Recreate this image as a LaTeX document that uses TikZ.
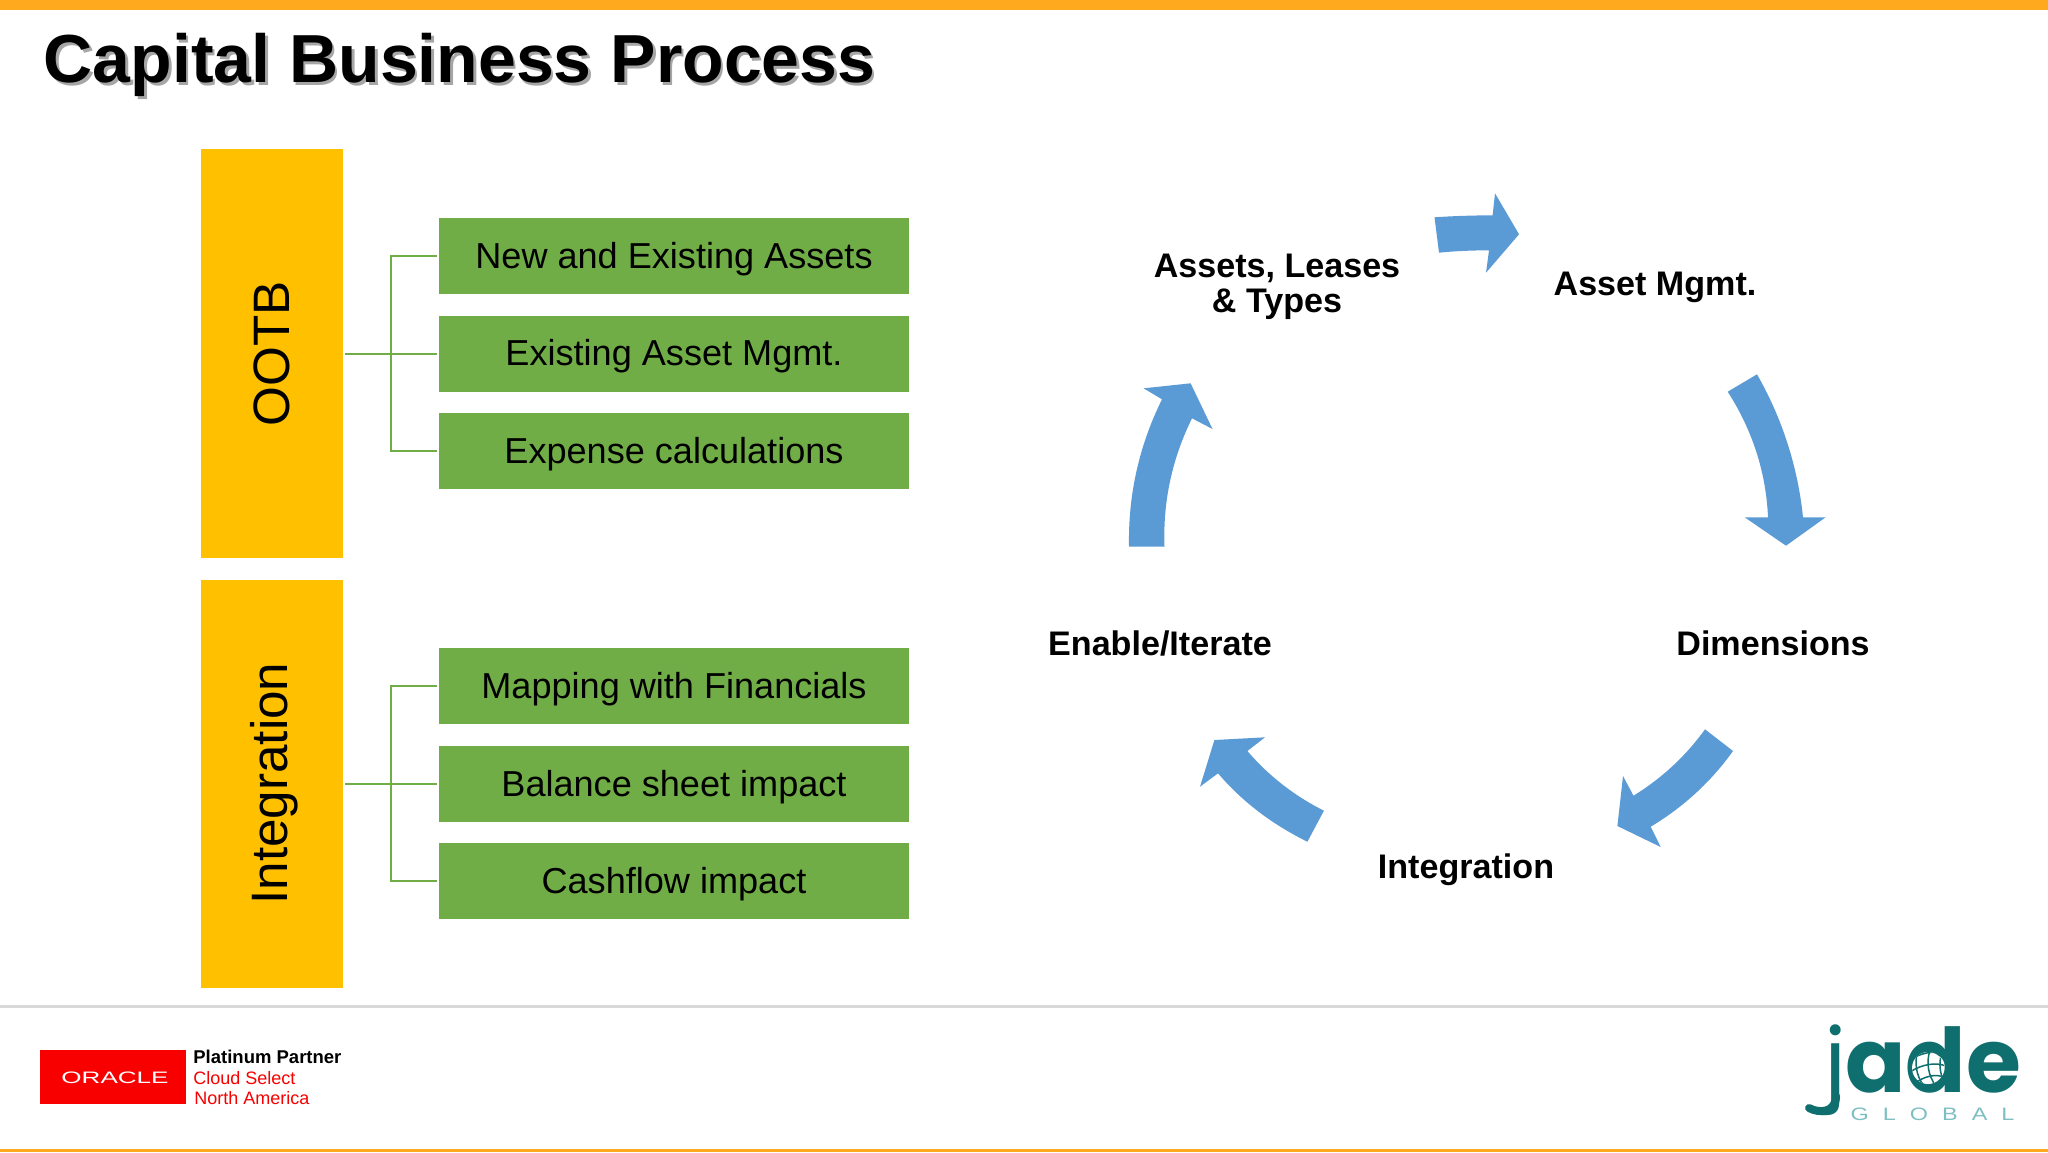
\documentclass[tikz,border=0pt]{standalone}
\usepackage{fontspec}
\setmainfont{Liberation Sans}
\newfontfamily\jadefont{Poppins}
\definecolor{band}{HTML}{FFA91F}
\definecolor{rulegray}{HTML}{D9D9D9}
\definecolor{boxyellow}{HTML}{FFC000}
\definecolor{boxgreen}{HTML}{70AD47}
\definecolor{cycleblue}{HTML}{5B9BD5}
\definecolor{oraclered}{HTML}{F80000}
\definecolor{jadeteal}{HTML}{0F6E6E}
\definecolor{jadelight}{HTML}{7DBFC2}
\tikzset{
  yellowbox/.style={fill=boxyellow,draw=none,minimum width=71pt,inner sep=0pt,outer sep=0pt},
  greenbox/.style={fill=boxgreen,draw=none,minimum width=235pt,minimum height=38pt,inner sep=0pt,outer sep=0pt,
    font=\fontsize{18.05}{21}\selectfont,text=black,text height=12.2pt,text depth=0pt},
  sidelabel/.style={rotate=90,inner sep=0pt,text=black,font=\fontsize{25.6}{30}\selectfont},
  conn/.style={draw=boxgreen,line width=1pt,shorten >=1pt},
  stagelabel/.style={inner sep=0pt,align=center,text=black,font=\bfseries\fontsize{17.05}{18}\selectfont},
  cyclearrow/.style={fill=cycleblue,draw=none},
  smalllogo/.style={anchor=west,inner sep=0pt,font=\fontsize{9}{10}\selectfont},
  globeline/.style={draw=jadeteal,line width=0.75pt}
}
\begin{document}
\begin{tikzpicture}[x=0.5pt,y=-0.5pt]
\useasboundingbox (0,0) rectangle (2048,1152);
\fill[white] (0,0) rectangle (2048,1152);
% bands
\fill[band] (0,0) rectangle (2048,10);
\fill[rulegray] (0,1005) rectangle (2048,1008);
\fill[band] (0,1149) rectangle (2048,1152);
% title
\node[anchor=west,inner sep=0pt,text=black!35,font=\bfseries\fontsize{34}{40}\selectfont] (titleshadow) at (46,68) {Capital Business Process};
\node[anchor=west,inner sep=0pt,text=black,font=\bfseries\fontsize{34}{40}\selectfont] (title) at (43.5,65) {Capital Business Process};
% left blocks
\node[yellowbox,minimum height=204.5pt] (ootb) at (272,353.5) {};
\node[sidelabel] (ootbtext) at (272,353.5) {OOTB};
\node[yellowbox,minimum height=204pt] (integ) at (272,784) {};
\node[sidelabel] (integtext) at (274,783.5) {Integration};
\node[greenbox] (a1) at (674,256) {New and Existing Assets};
\node[greenbox] (a2) at (674,353.5) {Existing Asset Mgmt.};
\node[greenbox] (a3) at (674,451) {Expense calculations};
\node[greenbox] (b1) at (674,686) {Mapping with Financials};
\node[greenbox] (b2) at (674,784) {Balance sheet impact};
\node[greenbox] (b3) at (674,881) {Cashflow impact};
\coordinate (j1) at (391,353.5);
\coordinate (j2) at (391,784);
\draw[conn,shorten <=1pt] (ootb.east |- a2.west) -- (a2.west);
\draw[conn] (j1) |- (a1.west);
\draw[conn] (j1) |- (a3.west);
\draw[conn,shorten <=1pt] (integ.east |- b2.west) -- (b2.west);
\draw[conn] (j2) |- (b1.west);
\draw[conn] (j2) |- (b3.west);
% cycle labels
\node[stagelabel] (s1) at (1277,287) {Assets, Leases\\[-0.5pt]\& Types};
\node[stagelabel] (s2) at (1655,287) {Asset Mgmt.};
\node[stagelabel] (s3) at (1773,643) {Dimensions};
\node[stagelabel] (s4) at (1466,870) {Integration};
\node[stagelabel] (s5) at (1160,643) {Enable/Iterate};
% cycle arrows
\fill[cyclearrow] (1434.5,217.3) .. controls (1453,216) and (1473,215.4) .. (1492.6,215.3) -- (1495,193.3) -- (1519,234.3) -- (1486,272.7) -- (1489,250.3) .. controls (1472,250.4) and (1455,251) .. (1439,252.7) -- cycle;
\fill[cyclearrow] (1727.7,391.7) -- (1757,374.3) .. controls (1782.3,418.8) and (1797.7,466.4) .. (1803,517.3) -- (1825.6,517.3) -- (1786,545.7) -- (1744.7,517.3) -- (1768,517.3) .. controls (1766,471.8) and (1752.2,429.9) .. (1727.7,391.7) -- cycle;
\fill[cyclearrow] (1705,729.3) -- (1733,751) .. controls (1711,781.7) and (1683.6,806.9) .. (1650.7,826.7) -- (1660.7,847) -- (1617.4,826) -- (1623,776) -- (1633.5,795.7) .. controls (1661.8,778.2) and (1685.7,756.1) .. (1705,729.3) -- cycle;
\fill[cyclearrow] (1323.9,810.7) -- (1307.4,841.7) .. controls (1271.8,824.2) and (1242,801.4) .. (1218,773.3) -- (1200,786.7) -- (1214.4,740) -- (1265,737.3) -- (1247.4,751) .. controls (1268.5,775.7) and (1294,795.6) .. (1323.9,810.7) -- cycle;
\fill[cyclearrow] (1129,546.7) -- (1164.5,546.7) .. controls (1162.8,501.6) and (1172,458.8) .. (1192,418.3) -- (1212.5,429) -- (1190.6,383.3) -- (1143.6,388.3) -- (1162,399.3) .. controls (1139,445.8) and (1128,495) .. (1129,546.7) -- cycle;
% oracle logo
\node[fill=oraclered,draw=none,minimum width=73pt,minimum height=27pt,inner sep=0pt,outer sep=0pt] (oracle) at (113,1077) {};
\node[inner sep=0pt,text=white,xscale=1.57,font=\fontsize{8.3}{9}\selectfont] (oracletext) at (115,1078) {ORACLE};
\node[smalllogo,font=\bfseries\fontsize{9.25}{10}\selectfont] (p1) at (193,1057) {Platinum Partner};
\node[smalllogo,text=oraclered] (p2) at (193,1078) {Cloud Select};
\node[smalllogo,text=oraclered] (p3) at (194,1098) {North America};
% jade logo
\node[anchor=base west,inner sep=0pt,text=jadeteal,font=\jadefont\fontsize{44.5}{50}\selectfont] (jade) at (1824,1092) {j\hspace{-0.6pt}{\bfseries ade}};
\draw[jadeteal,line width=4pt,line cap=round] (1836,1096) .. controls (1836,1112) and (1820,1114) .. (1809,1108);
\fill[white] (1928,1068) circle (8pt);
\begin{scope}
\clip (1928,1068) circle (8pt);
\draw[globeline] (1910,1060) .. controls (1920,1053) and (1934,1050) .. (1946,1054);
\draw[globeline] (1910,1072) .. controls (1922,1064) and (1936,1062) .. (1946,1066);
\draw[globeline] (1914,1084) .. controls (1924,1076) and (1936,1073) .. (1946,1078);
\draw[globeline] (1918,1050) .. controls (1914,1062) and (1916,1076) .. (1924,1086);
\draw[globeline] (1930,1050) .. controls (1926,1062) and (1928,1076) .. (1936,1086);
\draw[globeline] (1942,1052) .. controls (1938,1064) and (1940,1076) .. (1946,1084);
\end{scope}
\node[inner sep=0pt,text=jadelight,xscale=1.3,font=\fontsize{9}{10}\selectfont] (global) at (1932.5,1114) {G\hspace{5.4pt}L\hspace{5.4pt}O\hspace{5.4pt}B\hspace{5.4pt}A\hspace{5.4pt}L};
\end{tikzpicture}
\end{document}
